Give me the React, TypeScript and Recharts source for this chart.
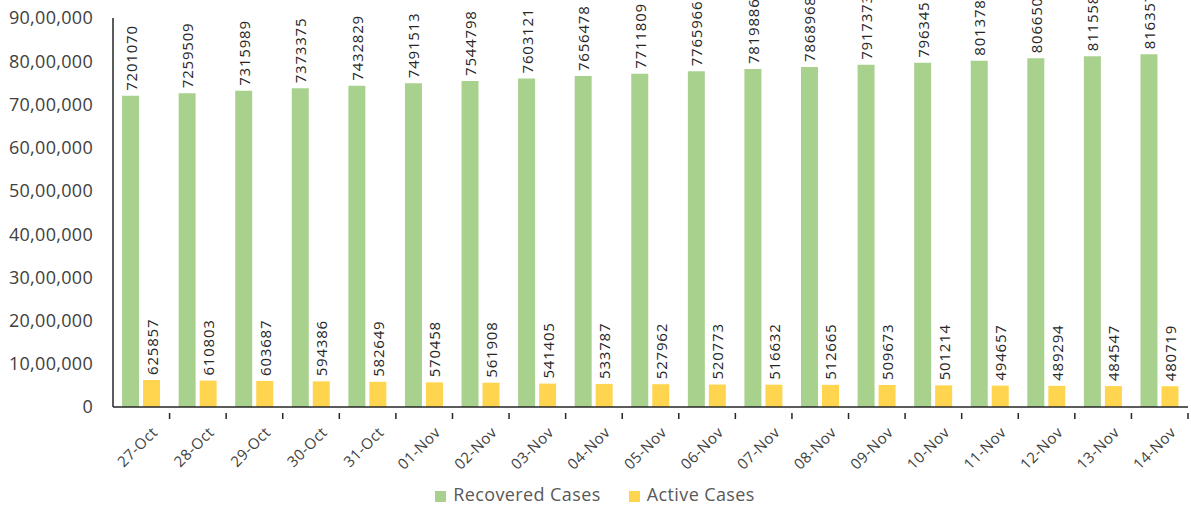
import { BarChart, Bar, XAxis, YAxis, Legend, LabelList } from 'recharts';

const dates = [
  '27-Oct', '28-Oct', '29-Oct', '30-Oct', '31-Oct', '01-Nov', '02-Nov', '03-Nov', '04-Nov', '05-Nov',
  '06-Nov', '07-Nov', '08-Nov', '09-Nov', '10-Nov', '11-Nov', '12-Nov', '13-Nov', '14-Nov',
];

const recovered = [
  7201070, 7259509, 7315989, 7373375, 7432829, 7491513, 7544798, 7603121, 7656478, 7711809,
  7765966, 7819886, 7868968, 7917373, 7963451, 8013783, 8066501, 8115580, 8163572,
];

const active = [
  625857, 610803, 603687, 594386, 582649, 570458, 561908, 541405, 533787, 527962,
  520773, 516632, 512665, 509673, 501214, 494657, 489294, 484547, 480719,
];

const yTicks = [0, 1000000, 2000000, 3000000, 4000000, 5000000, 6000000, 7000000, 8000000, 9000000];

const data = dates.map((date, i) => ({ date, recovered: recovered[i], active: active[i] }));

// Indian digit grouping: 90,00,000
function formatIndian(v: number) {
  const s = String(v);
  if (s.length <= 3) return s;
  const last3 = s.slice(-3);
  const rest = s.slice(0, -3).replace(/\B(?=(\d{2})+(?!\d))/g, ',');
  return `${rest},${last3}`;
}

const FONT = '"Open Sans", "Noto Sans", sans-serif';
const BAND = (1188 - 113) / dates.length;
const seriesOrder = ['recovered', 'active'];

function BarValue(props: any) {
  const { x, y, width, value } = props;
  const cx = x + width / 2;
  const cy = y - 5;
  return (
    <text
      x={cx}
      y={cy}
      transform={`rotate(-90 ${cx} ${cy})`}
      textAnchor="start"
      dominantBaseline="central"
      fontSize={15}
      letterSpacing={0.8}
      fontFamily={FONT}
      fill="#262626"
    >
      {value}
    </text>
  );
}

function DateTick(props: any) {
  const { x, y, payload } = props;
  const tx = x + 13;
  const ty = y + 14;
  return (
    <g>
      <line x1={x + BAND / 2} x2={x + BAND / 2} y1={y - 2} y2={y + 4} stroke="#262626" strokeWidth={1.5} />
      <text
        x={tx}
        y={ty}
        transform={`rotate(-45 ${tx} ${ty})`}
        textAnchor="end"
        dominantBaseline="central"
        fontSize={15}
        letterSpacing={0.5}
        fontFamily={FONT}
        fill="#404040"
      >
        {payload.value}
      </text>
    </g>
  );
}

export default function App() {
  return (
    <div style={{ position: 'absolute', left: 0, top: 0, background: '#fff' }}>
      <BarChart
        width={1191}
        height={512}
        data={data}
        margin={{ top: 18, right: 3, bottom: 6, left: 0 }}
        barCategoryGap="16%"
        barGap={4}
      >
        <XAxis
          dataKey="date"
          interval={0}
          height={75}
          tickLine={false}
          axisLine={{ stroke: '#262626', strokeWidth: 1.5 }}
          tick={<DateTick />}
        />
        <YAxis
          width={113}
          domain={[0, 9000000]}
          ticks={yTicks}
          tickFormatter={formatIndian}
          tickLine={false}
          tickMargin={14}
          axisLine={{ stroke: '#262626', strokeWidth: 1.5 }}
          tick={{ fontSize: 18, fontFamily: FONT, fill: '#404040', letterSpacing: 0.3 }}
        />
        <Legend
          verticalAlign="bottom"
          align="center"
          iconType="square"
          iconSize={11}
          itemSorter={(item: any) => seriesOrder.indexOf(item.dataKey)}
          wrapperStyle={{ fontSize: 18, fontFamily: FONT, letterSpacing: 0.4, paddingLeft: 6 }}
          formatter={(v: string, entry: any) => (
            <span style={{ color: '#595959', marginRight: entry.dataKey === 'recovered' ? 18 : 0, marginLeft: 3 }}>{v}</span>
          )}
        />
        <Bar dataKey="recovered" name="Recovered Cases" fill="#A9D18E" isAnimationActive={false}>
          <LabelList dataKey="recovered" content={<BarValue />} />
        </Bar>
        <Bar dataKey="active" name="Active Cases" fill="#FFD54F" isAnimationActive={false}>
          <LabelList dataKey="active" content={<BarValue />} />
        </Bar>
      </BarChart>
    </div>
  );
}
